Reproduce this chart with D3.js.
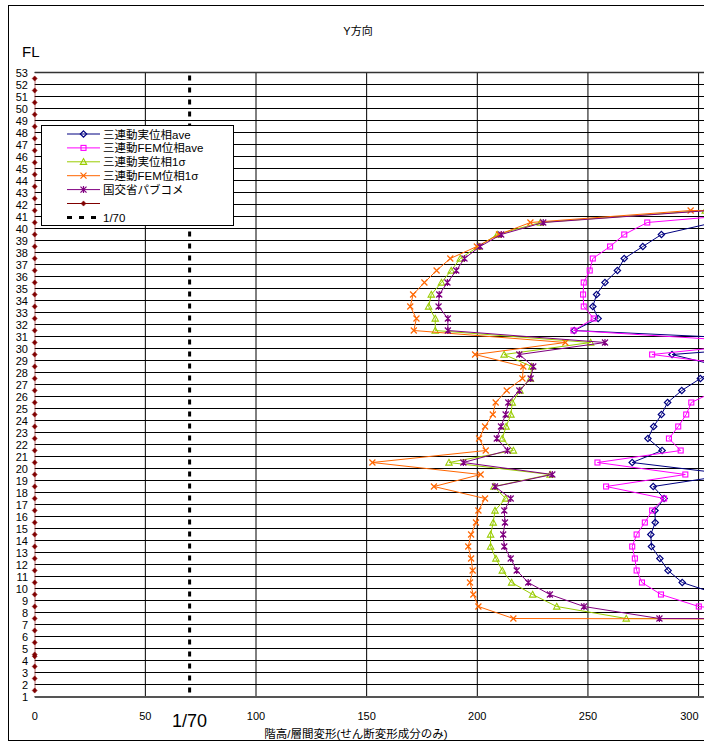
<!DOCTYPE html>
<html><head><meta charset="utf-8">
<script src="https://cdn.jsdelivr.net/npm/d3@7/dist/d3.min.js"></script>
<style>
body{margin:0;background:#fff}
svg{display:block}
text{font-family:"Liberation Sans","Noto Sans CJK JP",sans-serif;fill:#000}
</style>
</head><body>
<svg id="chart" width="704" height="743"></svg>
<script>
// ---- data ----
const stories = [42,41,40,39,38,37,36,35,34,33,32,31,30,29,28,27,26,25,24,23,22,21,20,19,18,17,16,15,14,13,12,11,10,9,8,7,6];
const blueAve    = [3000,360,307,283.2,274.8,266.4,263.3,257.7,253.9,252.2,254.6,243.8,360,288,310,300.8,292.4,286,283.2,279.7,277.1,283.5,270,315,279.5,284.4,280.3,280.4,278.4,278.7,282.5,286.2,292.6,309,330,400,3000];
const magentaAve = [3000,340,276.8,266.4,260,252.2,250.8,248.1,247.8,248.1,252.6,243.5,330,279,321,318,308,296.7,294.4,290.8,286.6,291.9,254.3,294,258.2,284.4,279,275.7,272,270,271.2,272,274.4,283,300.1,350,3000];
const greenSigma = [3000,303,228.5,209,200.5,192.3,188.2,183.8,179.2,178,181,181,251.2,212.1,224.6,224,219.3,215.8,215.2,213,211.3,216.3,187.2,232.9,207.5,212.8,208,207.2,206,206,208.4,211.3,215.5,225,235.9,267.3,3000];
const orangeSigma= [3000,296.4,224,209.8,199.8,187.8,181.6,176.1,171,169.7,172.5,171.3,239.8,199,220.8,220.4,213.3,208.3,207,203.5,200.8,203.8,152.6,201.5,180.4,203.5,200.5,199.4,197.2,195.9,197.2,197.9,196.7,198.2,200.5,216.3,3000];
const purplePub  = [3000,305,229.8,210.8,201.2,194.2,190.5,186.5,182.8,182.5,186.7,186.7,257.7,219,225.3,224.1,219,214,212.8,210.7,208.8,213.7,193.7,233.9,208,215.1,212.2,212.5,211.7,212.2,215.1,217.8,223,232.8,248.2,282.3,3000];
const seriesNames = ["三連動実位相ave","三連動FEM位相ave","三連動実位相1σ","三連動FEM位相1σ","国交省パブコメ","","1/70"];
const floorLevels = d3.range(1, 54);
const baseLevels = [52.5,51.5,50.5,49.5,48.5,47.5,46.5,45.5,44.5,43.5,42.5,41.5,40.5,39.5,38.5,37.5,36.5,35.5,34.5,33.5,32.5,31.5,30.5,29.5,28.5,27.5,26.5,25.5,24.5,23.5,22.5,21.5,20.5,19.5,18.5,17.5,16.5,15.5,14.5,13.5,12.5,11.5,10.5,9.5,8.5,7.5,6.5,5.5,4.5,4.35,3.5,2.5,1.5];
const limitValue = 70;
const xTicks = [0,50,100,150,200,250,300];
const xTickLabels = ["0","50","100","150","200","250","300"];
const xGridExtra = [350];

// ---- layout ----
const svg = d3.select("#chart");
const x = d3.scaleLinear().domain([0,300]).range([34.7,698.6]);
const y = d3.scaleLinear().domain([1,53]).range([696.5,72.5]);
const plotRight = 860;

svg.append("rect").attr("x",8.5).attr("y",5.5).attr("width",900).attr("height",735)
  .attr("fill","#fff").attr("stroke","#000").attr("stroke-width",1);

svg.append("defs").append("clipPath").attr("id","clip")
  .append("rect").attr("x",x(0)).attr("y",y(53)).attr("width",plotRight-x(0)).attr("height",y(1)-y(53));

// gridlines
const grid = svg.append("g");
grid.selectAll("line.h").data(floorLevels).join("line").attr("class","h")
  .attr("x1",x(0)).attr("x2",plotRight).attr("y1",d=>y(d)).attr("y2",d=>y(d))
  .attr("stroke","#000").attr("stroke-width",1);
grid.selectAll("line.v").data(xTicks.filter(d=>d>0).concat(xGridExtra)).join("line").attr("class","v")
  .attr("x1",d=>x(d)).attr("x2",d=>x(d)).attr("y1",y(53)).attr("y2",y(1))
  .attr("stroke","#000").attr("stroke-width",1);
grid.append("line").attr("x1",x(0)).attr("x2",plotRight).attr("y1",y(1)+0.5).attr("y2",y(1)+0.5).attr("stroke","#555").attr("stroke-width",2);
grid.append("line").attr("x1",x(0)).attr("x2",plotRight).attr("y1",y(53)).attr("y2",y(53)).attr("stroke","#333").attr("stroke-width",1.5);

// y labels
svg.append("g").selectAll("text").data(floorLevels).join("text")
  .attr("x",28).attr("y",d=>y(d)+4).attr("text-anchor","end").attr("font-size",11).text(d=>d);
// x labels (last one kept inside the page edge)
svg.append("g").selectAll("text").data(xTicks).join("text")
  .attr("x",d=>Math.min(x(d), 703)).attr("y",720)
  .attr("text-anchor",d=>x(d)+9>703?"end":"middle").attr("font-size",11).text((d,i)=>xTickLabels[i]);

svg.append("text").attr("x",358).attr("y",35).attr("text-anchor","middle").attr("font-size",11).text("Y方向");
svg.append("text").attr("x",22).attr("y",57).attr("font-size",15).text("FL");
svg.append("text").attr("x",x(limitValue)).attr("y",727).attr("text-anchor","middle").attr("font-size",18).attr("font-weight",300).text("1/70");
svg.append("text").attr("x",356).attr("y",738).attr("text-anchor","middle").attr("font-size",11.5).text("階高/層間変形(せん断変形成分のみ)");

// markers
function marker(g, type, cx, cy, color){
  const s = 2.6;
  if(type==="diamond"){
    g.append("path").attr("d",`M${cx},${cy-s-0.6}L${cx+s+0.6},${cy}L${cx},${cy+s+0.6}L${cx-s-0.6},${cy}Z`).attr("fill","none").attr("stroke",color).attr("stroke-width",1.2);
  } else if(type==="square"){
    g.append("rect").attr("x",cx-2.5).attr("y",cy-2.5).attr("width",5).attr("height",5).attr("fill","none").attr("stroke",color).attr("stroke-width",1.1);
  } else if(type==="triangle"){
    g.append("path").attr("d",`M${cx},${cy-3.2}L${cx+3.2},${cy+2.6}L${cx-3.2},${cy+2.6}Z`).attr("fill","none").attr("stroke",color).attr("stroke-width",1.1);
  } else if(type==="x"){
    g.append("path").attr("d",`M${cx-3},${cy-3}L${cx+3},${cy+3}M${cx-3},${cy+3}L${cx+3},${cy-3}`).attr("stroke",color).attr("stroke-width",1.2);
  } else if(type==="star"){
    g.append("path").attr("d",`M${cx-3},${cy-3}L${cx+3},${cy+3}M${cx-3},${cy+3}L${cx+3},${cy-3}M${cx},${cy-3.5}L${cx},${cy+3.5}`).attr("stroke",color).attr("stroke-width",1.2);
  } else if(type==="dot"){
    g.append("path").attr("d",`M${cx},${cy-2.6}L${cx+2.4},${cy}L${cx},${cy+2.6}L${cx-2.4},${cy}Z`).attr("fill",color).attr("stroke",color).attr("stroke-width",0.6);
  }
}

const series = [
  {vals:blueAve, color:"#000080", m:"diamond"},
  {vals:magentaAve, color:"#FF00FF", m:"square"},
  {vals:greenSigma, color:"#99CC00", m:"triangle"},
  {vals:orangeSigma, color:"#FF6600", m:"x"},
  {vals:purplePub, color:"#800080", m:"star"}
];
const plot = svg.append("g").attr("clip-path","url(#clip)");
const line = d3.line().x(d=>x(d.v)).y(d=>y(d.s+0.5));
series.forEach(sr=>{
  const pts = stories.map((s,i)=>({s, v:sr.vals[i]}));
  plot.append("path").datum(pts).attr("d",line).attr("fill","none").attr("stroke",sr.color).attr("stroke-width",1);
  const mg = plot.append("g");
  pts.filter(p=>x(p.v)<720).forEach(p=>marker(mg, sr.m, x(p.v), y(p.s+0.5), sr.color));
});

// base series at 0
const base = baseLevels.map(l=>({v:0, l}));
plot.append("path").datum(base).attr("d",d3.line().x(d=>x(d.v)).y(d=>y(d.l))).attr("fill","none").attr("stroke","#800000").attr("stroke-width",1.2);
const bg = svg.append("g");
base.forEach(p=>marker(bg,"dot",x(p.v),y(p.l),"#800000"));

// 1/70 line
svg.append("line").attr("x1",x(limitValue)).attr("x2",x(limitValue)).attr("y1",y(53)+3).attr("y2",y(1))
  .attr("stroke","#000").attr("stroke-width",3).attr("stroke-dasharray","5,7");

// legend
const lg = svg.append("g");
lg.append("rect").attr("x",41.5).attr("y",125.5).attr("width",192).attr("height",100).attr("fill","#fff").attr("stroke","#000");
const legendItems = [
  {color:"#000080", m:"diamond"},
  {color:"#FF00FF", m:"square"},
  {color:"#99CC00", m:"triangle"},
  {color:"#FF6600", m:"x"},
  {color:"#800080", m:"star"},
  {color:"#800000", m:"dot"},
  {color:"#000", m:"dash"}
];
legendItems.forEach((it,i)=>{
  const cy = 134 + i*13.9;
  if(it.m==="dash"){
    lg.append("line").attr("x1",67).attr("x2",101).attr("y1",cy).attr("y2",cy).attr("stroke","#000").attr("stroke-width",3).attr("stroke-dasharray","5,7");
  } else {
    lg.append("line").attr("x1",67).attr("x2",100).attr("y1",cy).attr("y2",cy).attr("stroke",it.color).attr("stroke-width",1);
    marker(lg, it.m, 83.5, cy, it.color);
  }
  lg.append("text").attr("x",103).attr("y",cy+4.5).attr("font-size",11.5).text(seriesNames[i]);
});
</script>
</body></html>
